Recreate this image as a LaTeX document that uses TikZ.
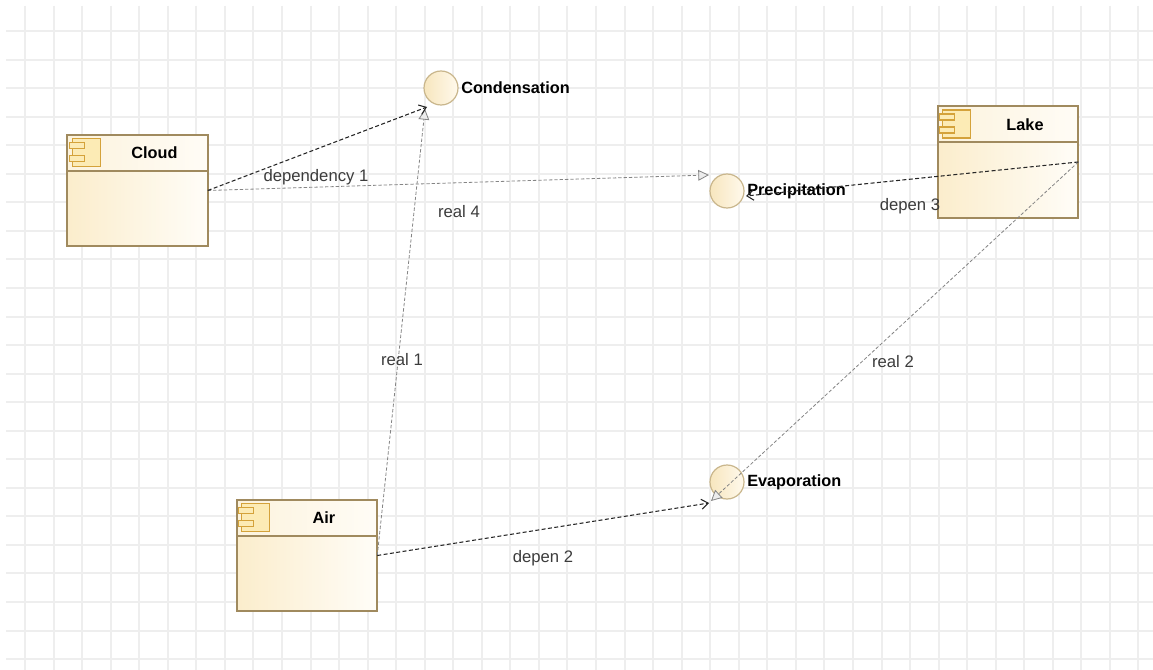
\documentclass[tikz,border=0pt]{standalone}
\usepackage{fontspec}
\setmainfont{Liberation Sans}
\usetikzlibrary{arrows.meta,calc}
\definecolor{gridc}{HTML}{EEEEEE}
\definecolor{boxbd}{HTML}{A08A5E}
\definecolor{boxl}{HTML}{FBEDCC}
\definecolor{boxr}{HTML}{FFFDF8}
\definecolor{hdrl}{HTML}{FCF3DD}
\definecolor{hdrr}{HTML}{FFFCF6}
\definecolor{iconbd}{HTML}{D4A23A}
\definecolor{iconfill}{HTML}{FCEBB5}
\definecolor{circbd}{HTML}{C9B68C}
\definecolor{circl}{HTML}{F7E6BE}
\definecolor{circr}{HTML}{FFF9EC}
\definecolor{lbl}{HTML}{3C3C3C}
\definecolor{realc}{HTML}{858585}
\tikzset{
  gridline/.style={draw=gridc, line width=1.1pt},
  compbox/.style={rectangle, minimum width=105pt, minimum height=83.25pt, inner sep=0pt, left color=boxl, right color=boxr, draw=none},
  hdrfill/.style={left color=hdrl, right color=hdrr},
  boxline/.style={draw=boxbd, line width=1.2pt},
  iconline/.style={draw=iconbd, fill=iconfill, line width=1.1pt},
  comptitle/.style={font=\fontsize{12.2}{14}\selectfont\bfseries, text=black, inner sep=0pt},
  iface/.style={circle, minimum size=25.5pt, inner sep=0pt, draw=circbd, line width=0.9pt, left color=circl, right color=circr},
  ifacelabel/.style={font=\fontsize{12.2}{14}\selectfont\bfseries, text=black, inner sep=0pt, anchor=west},
  conlabel/.style={font=\fontsize{12.5}{14}\selectfont, text=lbl, inner sep=0pt},
  deparrow/.style={draw=black!85, line width=0.8pt, dash pattern=on 3pt off 1.8pt, -{Straight Barb[length=5pt,width=7.5pt,line width=0.8pt]}},
  realarrow/.style={draw=realc, line width=0.6pt, dash pattern=on 2.5pt off 1.5pt, -{Triangle[open,length=8pt,width=8pt,fill=gray!15,line width=0.6pt]}}
}
\newcommand\mkcomp[4]{%
  \node[compbox] (#1) at (#2,#3) {};
  \path[hdrfill] (#1.north west) rectangle ($(#1.north east)+(0,36)$);
  \draw[boxline] ($(#1.north west)+(0,36)$) -- ($(#1.north east)+(0,36)$);
  \draw[boxline] (#1.north west) rectangle (#1.south east);
  \begin{scope}[shift={(#1.north west)}]
    \draw[iconline] (5,4) rectangle (33,32);
    \draw[iconline] (2,8) rectangle (17,14);
    \draw[iconline] (2,21) rectangle (17,27);
  \end{scope}
  \node[comptitle] (#1t) at ($(#1.north)+(17,18)$) {#4};
}
\begin{document}
\begin{tikzpicture}[x=0.75pt,y=-0.75pt]
\useasboundingbox (0,0) rectangle (1153,670);
\fill[white] (0,0) rectangle (1153,670);
% grid
\foreach \i in {0,...,39} \draw[gridline] ({25+round(28.55*\i)},6) -- ({25+round(28.55*\i)},670);
\foreach \j in {0,...,22} \draw[gridline] (6,{31+round(28.55*\j)}) -- (1153,{31+round(28.55*\j)});
% components
\mkcomp{cloud}{137.5}{190.5}{Cloud}
\mkcomp{lake}{1008}{162}{Lake}
\mkcomp{air}{307}{555.5}{Air}
% interfaces
\node[iface] (cond) at (441,88) {};
\node[ifacelabel] (condl) at (461,88) {Condensation};
\node[iface] (prec) at (727,191) {};
\node[iface] (evap) at (727,482) {};
\node[ifacelabel] (evapl) at (747,482) {Evaporation};
% arrow tips
\coordinate (condA) at (427,107);
\coordinate (condB) at (425,109);
\coordinate (precA) at (709,175);
\coordinate (precB) at (746,196);
\coordinate (evapA) at (709,503);
\coordinate (evapB) at (711,501);
% connectors
\draw[realarrow] (cloud.east) -- (precA);
\draw[realarrow] (air.east) -- (condB);
\draw[realarrow] (lake.east) -- (evapB);
\draw[deparrow] (cloud.east) -- (condA);
\draw[deparrow] (air.east) -- (evapA);
\node[ifacelabel] (precl) at (747,191) {Precipitation};
\draw[deparrow] (lake.east) -- (precB);
% labels
\node[conlabel] (l1) at (316,177) {dependency 1};
\node[conlabel] (l2) at (459,212) {real 4};
\node[conlabel] (l3) at (402,360) {real 1};
\node[conlabel] (l4) at (543,558) {depen 2};
\node[conlabel] (l5) at (910,206) {depen 3};
\node[conlabel] (l6) at (893,362) {real 2};
\end{tikzpicture}
\end{document}
